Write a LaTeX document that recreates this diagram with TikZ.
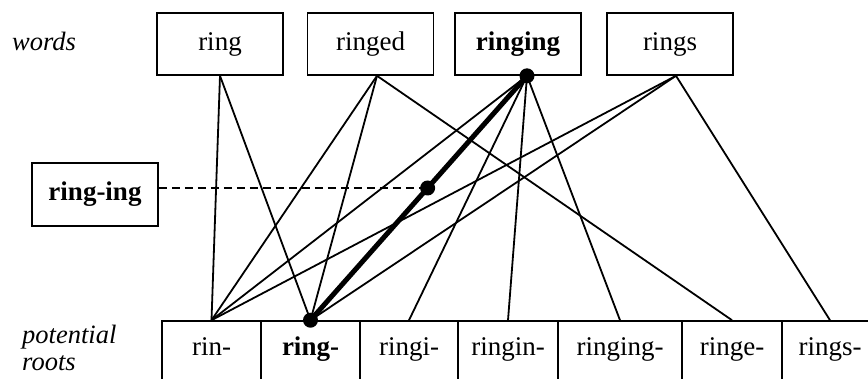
\documentclass[tikz,border=0pt]{standalone}
\usepackage{fontspec}
\setmainfont{Liberation Serif}
\usetikzlibrary{calc}
\begin{document}
\begin{tikzpicture}[x=1pt,y=-1pt,
  every node/.style={font=\fontsize{27}{30}\selectfont},
  wordbox/.style={draw, line width=1.6pt, minimum width=126pt, minimum height=62pt,
    inner sep=0pt, text height=19pt, text depth=7pt},
  rootbox/.style={draw, line width=1.6pt, minimum width=#1, minimum height=68pt,
    inner sep=0pt, text height=10pt, text depth=10pt},
  link/.style={line width=1.8pt},
  mainlink/.style={line width=5pt},
  dot/.style={circle, fill, inner sep=0pt, minimum size=15pt},
  lab/.style={font=\fontsize{26.5}{30}\selectfont\itshape, inner sep=0pt, anchor=base west}
]
\useasboundingbox (0,0) rectangle (868,378);
\clip (0,0) rectangle (868,378);

% row labels
\node[lab] (lab-words) at (12,50) {words};
\node[lab] (lab-pot) at (22,343) {potential};
\node[lab] (lab-roots) at (22,370) {roots};

% words
\node[wordbox] (w-ring) at (220,44) {ring};
\node[wordbox] (w-ringed) at (370.5,44) {ringed};
\node[wordbox] (w-ringing) at (518,44) {\bfseries ringing};
\node[wordbox] (w-rings) at (670,44) {rings};

% potential roots (open at the bottom edge)
\node[rootbox=99pt] (r-rin) at (211.5,355) {rin-};
\node[rootbox=99pt] (r-ring) at (310.5,355) {\bfseries ring-};
\node[rootbox=98pt] (r-ringi) at (409,355) {ringi-};
\node[rootbox=100pt] (r-ringin) at (508,355) {ringin-};
\node[rootbox=124pt] (r-ringing) at (620,355) {ringing-};
\node[rootbox=100pt] (r-ringe) at (732,355) {ringe-};
\node[rootbox=96pt] (r-rings) at (830,355) {rings-};

% segmentation
\node[wordbox, minimum height=63pt] (seg) at (95,194.5) {\bfseries ring-ing};

% attachment points under the words
\coordinate (a-ring) at (w-ring.south);
\coordinate (a-ringed) at ([xshift=6.5pt]w-ringed.south);
\coordinate (a-ringing) at ([xshift=9pt]w-ringing.south);
\coordinate (a-rings) at ([xshift=6pt]w-rings.south);

% links
\draw[link] (a-ring) -- (r-rin.north);
\draw[link] (a-ring) -- (r-ring.north);
\draw[link] (a-ringed) -- (r-rin.north);
\draw[link] (a-ringed) -- (r-ring.north);
\draw[link] (a-ringed) -- (r-ringe.north);
\draw[link] (a-ringing) -- (r-rin.north);
\draw[link] (a-ringing) -- (r-ringi.north);
\draw[link] (a-ringing) -- (r-ringin.north);
\draw[link] (a-ringing) -- (r-ringing.north);
\draw[link] (a-rings) -- (r-rin.north);
\draw[link] (a-rings) -- (r-ring.north);
\draw[link] (a-rings) -- (r-rings.north);
\draw[mainlink] (a-ringing) -- (r-ring.north);

% chosen segmentation
\coordinate (mid) at ($(a-ringing)!0.459!(r-ring.north)$);
\draw[line width=1.8pt, dash pattern=on 8pt off 5pt] (seg.east |- mid) -- (mid);
\node[dot] (d-top) at (a-ringing) {};
\node[dot] (d-mid) at (mid) {};
\node[dot] (d-bot) at (r-ring.north) {};
\end{tikzpicture}
\end{document}
